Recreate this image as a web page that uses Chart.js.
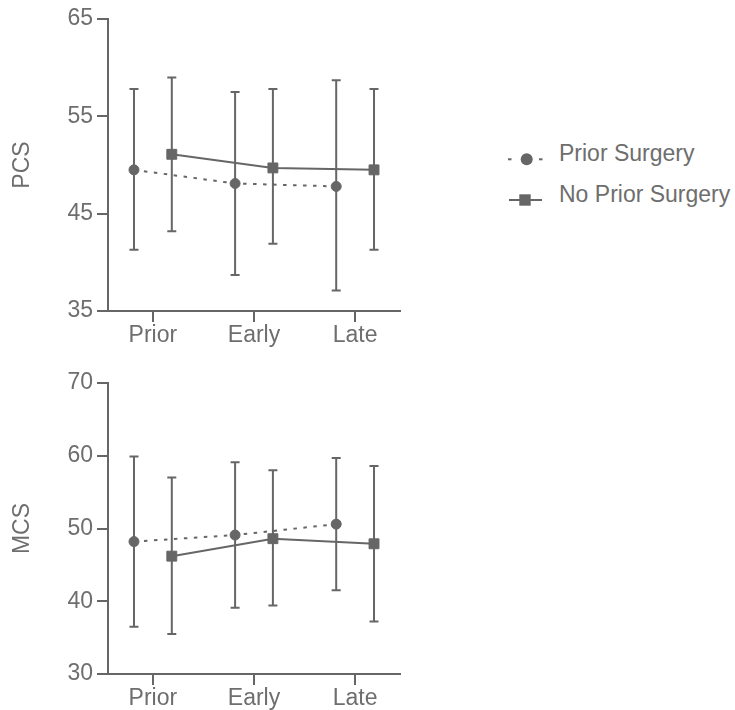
<!DOCTYPE html>
<html><head><meta charset="utf-8">
<script src="https://cdn.jsdelivr.net/npm/chart.js@4"></script>
<style>
html,body{margin:0;padding:0;background:#fff;}
#wrap{position:relative;width:735px;height:710px;overflow:hidden;background:#fff;}
canvas{position:absolute;left:0;}
#c1{top:0;}
#c2{top:360px;}
.leg{position:absolute;left:559px;font-size:23px;font-family:"Liberation Sans",Arial,sans-serif;color:#6e6e6e;line-height:26px;white-space:nowrap;}
svg{position:absolute;}
</style></head><body>
<div id="wrap">
<canvas id="c1" width="420" height="360"></canvas>
<canvas id="c2" width="420" height="350"></canvas>
<svg style="left:500px;top:145px" width="50" height="70">
  <line x1="8" y1="14.3" x2="11.5" y2="14.3" stroke="#666" stroke-width="2"/>
  <line x1="39" y1="14.3" x2="42.5" y2="14.3" stroke="#666" stroke-width="2"/>
  <circle cx="26.7" cy="14.3" r="6" fill="#666"/>
  <line x1="9" y1="55" x2="42" y2="55" stroke="#666" stroke-width="2"/>
  <rect x="19.3" y="49.3" width="11.4" height="11.4" fill="#666"/>
</svg>
<div class="leg" style="top:140px">Prior Surgery</div>
<div class="leg" style="top:181px">No Prior Surgery</div>
</div>
<script>
const categories = ['Prior', 'Early', 'Late'];
const seriesNames = ['Prior Surgery', 'No Prior Surgery'];

const pcsPriorMean = [49.5, 48.1, 47.8];
const pcsPriorLow  = [41.3, 38.7, 37.1];
const pcsPriorHigh = [57.8, 57.5, 58.7];
const pcsNoMean    = [51.1, 49.7, 49.5];
const pcsNoLow     = [43.2, 41.9, 41.3];
const pcsNoHigh    = [59.0, 57.8, 57.8];

const mcsPriorMean = [48.2, 49.1, 50.6];
const mcsPriorLow  = [36.5, 39.1, 41.5];
const mcsPriorHigh = [59.9, 59.1, 59.7];
const mcsNoMean    = [46.2, 48.6, 47.9];
const mcsNoLow     = [35.5, 39.4, 37.2];
const mcsNoHigh    = [57.0, 58.0, 58.6];

const pcsTicks = [35, 45, 55, 65];
const mcsTicks = [30, 40, 50, 60, 70];

const LINE = '#666666';
const TEXT = '#6e6e6e';
const FONT = '"Liberation Sans", Arial, sans-serif';
const FSIZE = 23;
const GROUP_OFFSET = 0.187;

const errorBars = {
  id: 'errorBars',
  beforeDatasetsDraw(chart) {
    const ctx = chart.ctx, ys = chart.scales.y;
    chart.data.datasets.forEach((ds, di) => {
      const meta = chart.getDatasetMeta(di);
      meta.data.forEach((pt, i) => {
        const x = pt.x;
        const yl = ys.getPixelForValue(ds.errLow[i]);
        const yh = ys.getPixelForValue(ds.errHigh[i]);
        ctx.save();
        ctx.strokeStyle = LINE;
        ctx.lineWidth = 2;
        ctx.beginPath();
        ctx.moveTo(x, yl); ctx.lineTo(x, yh);
        ctx.moveTo(x - 4.5, yl); ctx.lineTo(x + 4.5, yl);
        ctx.moveTo(x - 4.5, yh); ctx.lineTo(x + 4.5, yh);
        ctx.stroke();
        ctx.restore();
      });
    });
  }
};

function pts(vals, off) {
  return vals.map((v, i) => ({ x: i + 1 + off, y: v }));
}

function makeChart(id, title, ticks, pm, pl, ph, nm, nl, nh, padTop, chartBottom, canvasH) {
  return new Chart(document.getElementById(id), {
    type: 'line',
    data: {
      datasets: [
        {
          label: seriesNames[0], data: pts(pm, -GROUP_OFFSET), errLow: pl, errHigh: ph,
          borderColor: LINE, borderWidth: 2, borderDash: [3.5, 6.5],
          pointStyle: 'circle', pointRadius: 5, pointBackgroundColor: LINE,
          pointBorderColor: LINE, pointBorderWidth: 1, fill: false, tension: 0
        },
        {
          label: seriesNames[1], data: pts(nm, GROUP_OFFSET), errLow: nl, errHigh: nh,
          borderColor: LINE, borderWidth: 2,
          pointStyle: 'rect', pointRadius: 7, pointBackgroundColor: LINE,
          pointBorderColor: LINE, pointBorderWidth: 1, fill: false, tension: 0
        }
      ]
    },
    options: {
      responsive: false,
      animation: false,
      devicePixelRatio: 1,
      layout: { padding: { top: padTop, right: 20, left: 0, bottom: 0 } },
      plugins: { legend: { display: false }, tooltip: { enabled: false } },
      scales: {
        x: {
          type: 'linear', min: 0.556, max: 3.444,
          afterBuildTicks: s => { s.ticks = categories.map((c, i) => ({ value: i + 1 })); },
          afterFit: s => { s.height = canvasH - chartBottom; },
          ticks: {
            callback: v => categories[Math.round(v) - 1],
            color: TEXT, font: { family: FONT, size: FSIZE }, padding: 0, maxRotation: 0, autoSkip: false
          },
          grid: { drawOnChartArea: false, drawTicks: true, tickLength: 11, color: LINE, lineWidth: 2 },
          border: { display: true, color: LINE, width: 2 }
        },
        y: {
          type: 'linear', min: ticks[0], max: ticks[ticks.length - 1],
          afterBuildTicks: s => { s.ticks = ticks.map(v => ({ value: v })); },
          afterFit: s => { s.width = 108; },
          ticks: { color: TEXT, font: { family: FONT, size: FSIZE }, padding: 4 },
          grid: { drawOnChartArea: false, drawTicks: true, tickLength: 11, color: LINE, lineWidth: 2 },
          border: { display: true, color: LINE, width: 2 },
          title: { display: true, text: title, color: TEXT, font: { family: FONT, size: FSIZE }, padding: { top: 9, bottom: 0 } }
        }
      }
    },
    plugins: [errorBars]
  });
}

makeChart('c1', 'PCS', pcsTicks, pcsPriorMean, pcsPriorLow, pcsPriorHigh, pcsNoMean, pcsNoLow, pcsNoHigh, 19, 311, 360);
makeChart('c2', 'MCS', mcsTicks, mcsPriorMean, mcsPriorLow, mcsPriorHigh, mcsNoMean, mcsNoLow, mcsNoHigh, 23, 314, 350);
</script>
</body></html>
